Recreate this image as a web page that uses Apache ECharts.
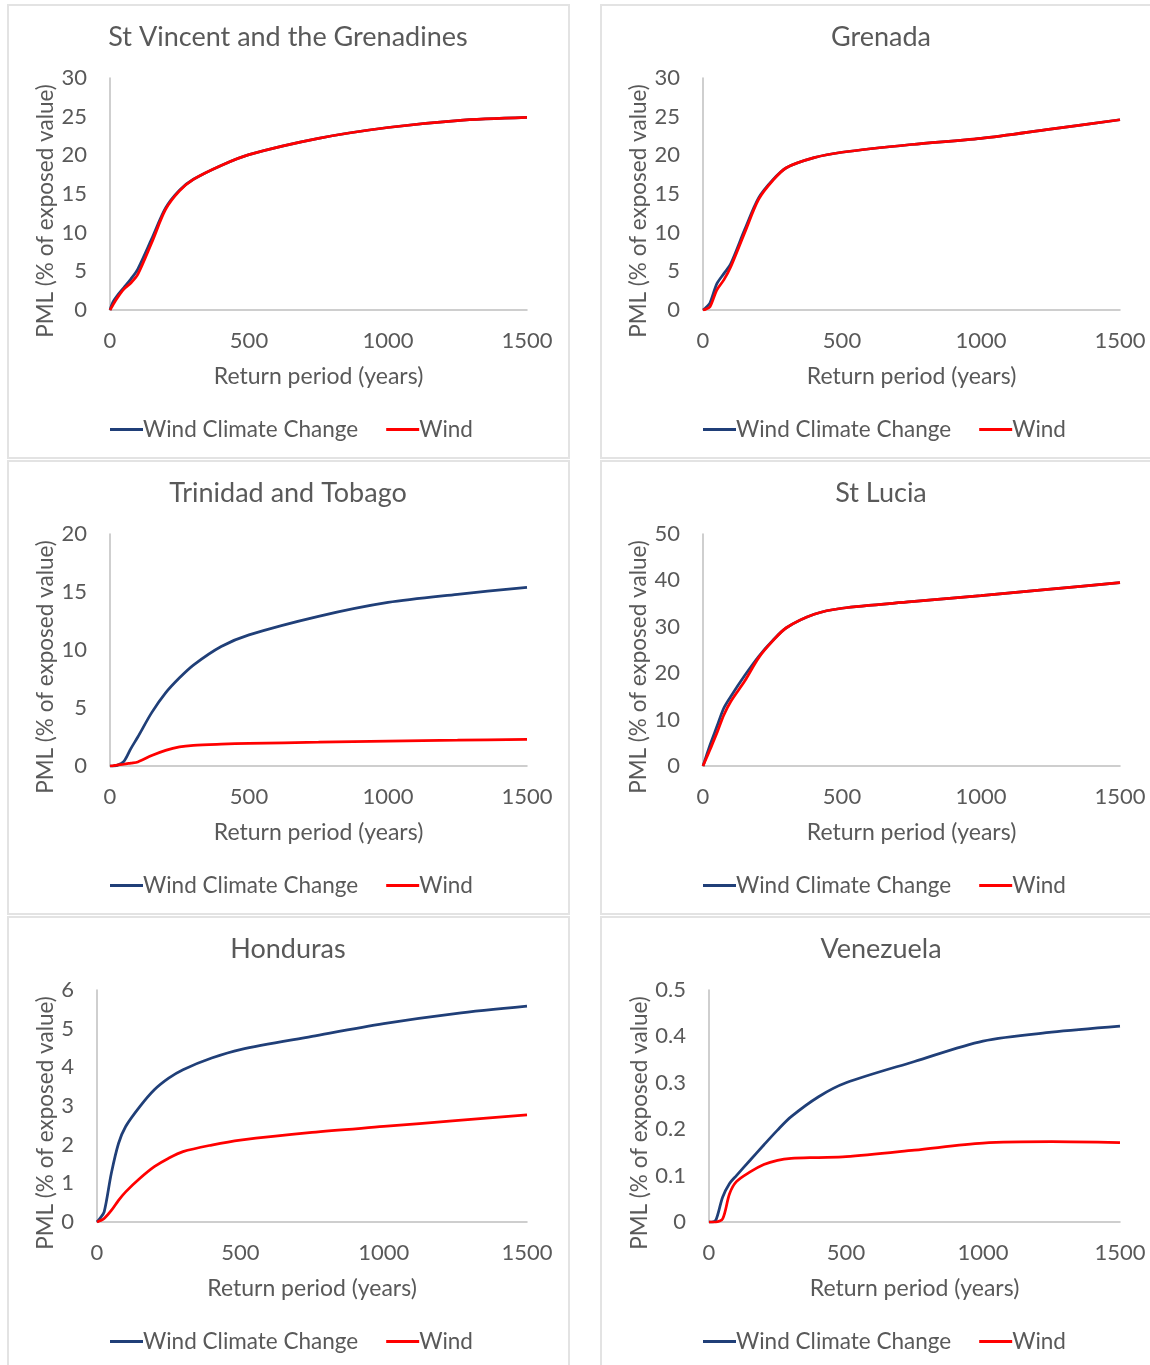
<!DOCTYPE html>
<html>
<head>
<meta charset="utf-8">
<script src="https://cdn.jsdelivr.net/npm/echarts@6/dist/echarts.min.js"></script>
<style>
  html, body { margin: 0; padding: 0; background: #ffffff; overflow: hidden; }
  .frame { position: absolute; box-sizing: border-box; border: 2px solid #e3e3e3; background: #fff; }
  #chart { position: absolute; left: 0; top: 0; width: 1150px; height: 1365px; }
</style>
</head>
<body>
<div class="frame" style="left:7px;top:4px;width:563px;height:455px;"></div>
<div class="frame" style="left:600px;top:4px;width:570px;height:455px;"></div>
<div class="frame" style="left:7px;top:460px;width:563px;height:455px;"></div>
<div class="frame" style="left:600px;top:460px;width:570px;height:455px;"></div>
<div class="frame" style="left:7px;top:916px;width:563px;height:470px;"></div>
<div class="frame" style="left:600px;top:916px;width:570px;height:470px;"></div>
<div id="chart"></div>
<script>
// ---------------- DATA ----------------
const returnPeriods = [0, 10, 25, 50, 75, 100, 150, 200, 250, 300, 400, 500, 750, 1000, 1250, 1500];
const seriesNames = ['Wind Climate Change', 'Wind'];
const xTicks = [0, 500, 1000, 1500];

const countries = ['St Vincent and the Grenadines', 'Grenada', 'Trinidad and Tobago', 'St Lucia', 'Honduras', 'Venezuela'];

const svgClimate = [0, 1.0, 1.8, 2.9, 4.0, 5.3, 9.2, 13.2, 15.5, 16.9, 18.7, 20.1, 22.2, 23.6, 24.5, 24.9];
const svgWind    = [0, 0.6, 1.5, 2.7, 3.5, 4.6, 8.7, 13.0, 15.4, 16.9, 18.7, 20.1, 22.2, 23.6, 24.5, 24.9];

const grdClimate = [0, 0.3, 0.9, 3.4, 4.7, 6.0, 10.4, 14.5, 16.8, 18.4, 19.7, 20.4, 21.4, 22.2, 23.4, 24.6];
const grdWind    = [0, 0.1, 0.4, 2.6, 3.9, 5.6, 10.0, 14.3, 16.7, 18.4, 19.7, 20.4, 21.4, 22.2, 23.4, 24.6];

const ttoClimate = [0, 0, 0.05, 0.4, 1.5, 2.5, 4.6, 6.3, 7.6, 8.7, 10.3, 11.3, 12.9, 14.1, 14.8, 15.4];
const ttoWind    = [0, 0.02, 0.08, 0.15, 0.25, 0.35, 0.9, 1.35, 1.65, 1.78, 1.88, 1.95, 2.05, 2.15, 2.22, 2.3];

const lcaClimate = [0, 1.8, 4.5, 8.5, 12.5, 15.0, 19.5, 23.6, 27.0, 29.8, 32.7, 34.0, 35.4, 36.7, 38.1, 39.5];
const lcaWind    = [0, 1.4, 3.5, 7.1, 11.0, 13.9, 18.3, 23.3, 26.9, 29.8, 32.7, 34.0, 35.4, 36.7, 38.1, 39.5];

const hndClimate = [0, 0.09, 0.26, 1.26, 2.03, 2.47, 2.99, 3.42, 3.72, 3.94, 4.24, 4.46, 4.8, 5.13, 5.39, 5.58];
const hndWind    = [0, 0.03, 0.09, 0.3, 0.56, 0.78, 1.13, 1.43, 1.65, 1.82, 1.99, 2.12, 2.32, 2.47, 2.62, 2.77];

const venClimate = [0, 0, 0.004, 0.054, 0.083, 0.10, 0.133, 0.166, 0.198, 0.227, 0.27, 0.30, 0.346, 0.39, 0.409, 0.422];
const venWind    = [0, 0, 0, 0.007, 0.061, 0.087, 0.108, 0.124, 0.133, 0.137, 0.139, 0.141, 0.155, 0.17, 0.173, 0.171];

const yMax = [30, 30, 20, 50, 6, 0.5];
const yStep = [5, 5, 5, 10, 1, 0.1];

const climateSeries = [svgClimate, grdClimate, ttoClimate, lcaClimate, hndClimate, venClimate];
const windSeries = [svgWind, grdWind, ttoWind, lcaWind, hndWind, venWind];

// ---------------- LAYOUT ----------------
const panelLayout = [
  { cx: 288, top: 0,   gl: 110, gw: 417, lg: 110, ng: 53 },
  { cx: 881, top: 0,   gl: 703, gw: 417, lg: 703, ng: 53 },
  { cx: 288, top: 456, gl: 110, gw: 417, lg: 110, ng: 53 },
  { cx: 881, top: 456, gl: 703, gw: 417, lg: 703, ng: 53 },
  { cx: 288, top: 912, gl: 97,  gw: 430, lg: 110, ng: 40 },
  { cx: 881, top: 912, gl: 709, gw: 411, lg: 703, ng: 56 }
];

const FONT = 'Lato';
const TXT = '#595959';
const BLUE = '#203f78';
const RED = '#ff0000';

const option = {
  animation: false,
  textStyle: { fontFamily: FONT },
  title: [], grid: [], xAxis: [], yAxis: [], legend: [], series: []
};

panelLayout.forEach((p, i) => {
  option.title.push({
    text: countries[i],
    left: p.cx, top: p.top + 24, textAlign: 'center', padding: 0,
    textStyle: { fontFamily: FONT, fontSize: 27, fontWeight: 'normal', color: TXT }
  });
  option.grid.push({ left: p.gl, top: p.top + 78, width: p.gw, height: 232, containLabel: false });
  option.xAxis.push({
    type: 'value', gridIndex: i, min: xTicks[0], max: xTicks[xTicks.length - 1], interval: 500,
    name: 'Return period (years)', nameLocation: 'middle', nameGap: 55,
    nameTextStyle: { fontFamily: FONT, fontSize: 23, color: TXT },
    axisLine: { show: true, lineStyle: { color: '#bfbfbf', width: 1.5 } },
    axisTick: { show: false }, splitLine: { show: false },
    axisLabel: { fontFamily: FONT, fontSize: 22, color: TXT, margin: 20, formatter: v => String(v) }
  });
  option.yAxis.push({
    type: 'value', gridIndex: i, min: 0, max: yMax[i], interval: yStep[i],
    name: 'PML (% of exposed value)', nameLocation: 'middle', nameGap: p.ng,
    nameTextStyle: { fontFamily: FONT, fontSize: 22.5, color: TXT, padding: [0, 34, 0, 0] },
    axisLine: { show: true, lineStyle: { color: '#bfbfbf', width: 1.5 } },
    axisTick: { show: false }, splitLine: { show: false },
    axisLabel: { fontFamily: FONT, fontSize: 22, color: TXT, margin: 23 }
  });
  option.legend.push({
    left: p.lg, top: p.top + 418, padding: 0,
    itemWidth: 33, itemHeight: 3, itemGap: 28, icon: 'rect',
    textStyle: { fontFamily: FONT, fontSize: 22.5, color: TXT, padding: [0, 0, 0, -5] },
    data: seriesNames
  });
  option.series.push({
    name: seriesNames[0], type: 'line', xAxisIndex: i, yAxisIndex: i,
    data: returnPeriods.map((x, k) => [x, climateSeries[i][k]]),
    smooth: 0.3, showSymbol: false,
    lineStyle: { color: BLUE, width: 2.75 }, itemStyle: { color: BLUE }
  });
  option.series.push({
    name: seriesNames[1], type: 'line', xAxisIndex: i, yAxisIndex: i,
    data: returnPeriods.map((x, k) => [x, windSeries[i][k]]),
    smooth: 0.3, showSymbol: false,
    lineStyle: { color: RED, width: 2.75 }, itemStyle: { color: RED }
  });
});

const chart = echarts.init(document.getElementById('chart'), null, { renderer: 'canvas' });
chart.setOption(option);
</script>
</body>
</html>
